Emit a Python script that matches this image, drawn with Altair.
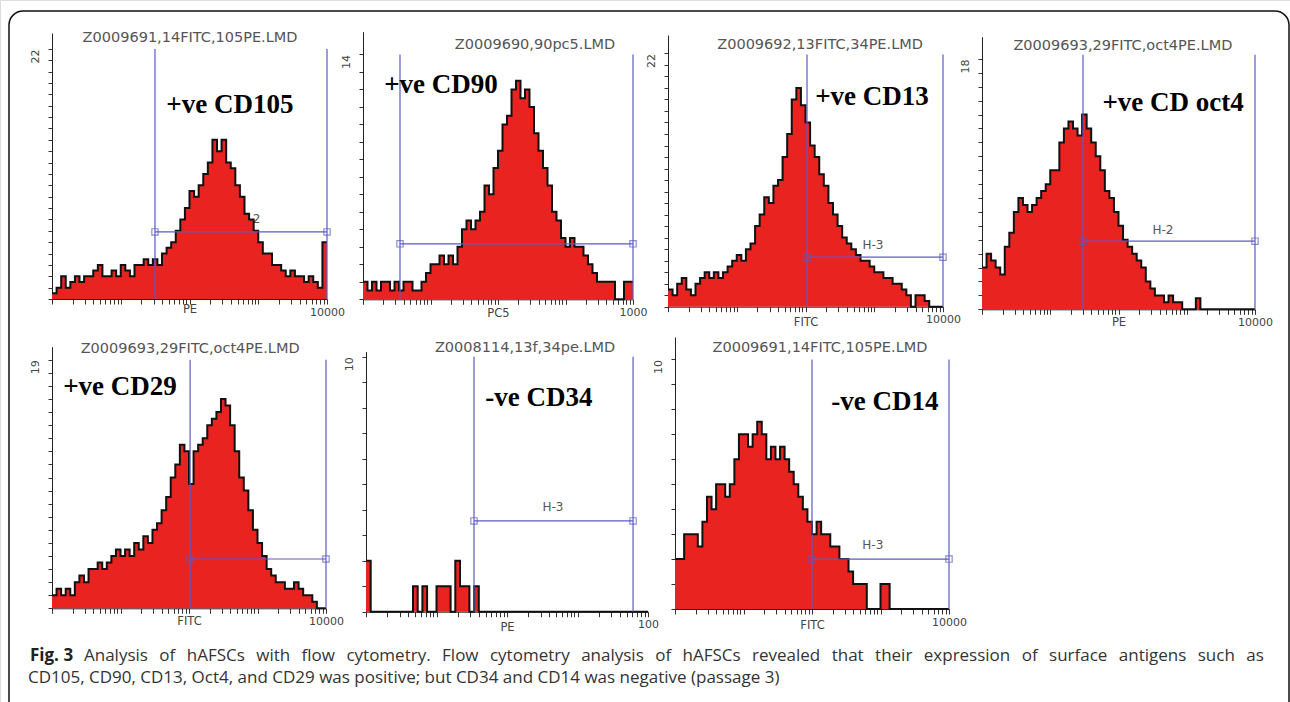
import altair as alt
import pandas as pd

# ---- histogram counts (60 log-spaced channels per panel, 4 decades) ----
cd105 = [0.5, 1, 2, 1, 1.5, 2, 1.5, 2, 2, 2.5, 3, 2, 2, 2.5, 2, 3, 2.5, 2, 3, 3,
         3.5, 3, 3.5, 3, 4, 4.5, 5, 6, 7, 8, 9.5, 9, 10, 11, 12, 14, 13, 14, 12, 11.5,
         10, 9, 7.5, 7, 6, 5, 4, 4, 3, 3, 2.5, 2, 2.5, 2, 2, 1.5, 2, 1.5, 1, 5]
cd90 = [1, 0.5, 1, 0.5, 1, 1, 0.5, 1, 0.5, 1, 1, 0.5, 0.5, 1, 1.5, 2, 2, 2.5, 2, 2.5,
        2, 3, 4, 4.5, 4, 4.5, 5, 6.5, 6, 7.5, 8.5, 10, 10.5, 12, 12.5, 11.5, 12, 11, 9.5, 8.5,
        7.5, 6.5, 5, 4.5, 3.5, 3, 3.5, 3, 3, 2.5, 2, 1.5, 1, 1, 1, 1, 0, 0, 1, 1]
cd13 = [1.5, 1, 2, 2.5, 1.5, 1, 2, 2.5, 3, 2.5, 3, 2.5, 3, 3.5, 4, 4.5, 4, 5, 5.5, 7,
        8, 9.5, 9, 10.5, 11, 13, 15, 18, 19, 17.5, 16, 14, 13, 11.5, 10.5, 9, 8, 7, 6, 5.5,
        5, 4.5, 4, 4, 3.5, 3, 3, 2.5, 2.5, 2, 2, 1.5, 1, 0, 1, 1, 0.5, 0, 0, 0]
oct4 = [3, 4, 3.5, 3, 2.5, 4.5, 5.5, 7, 8, 7.5, 7, 7.5, 8, 8.5, 9, 10, 10, 12, 13, 13.5,
        13, 12.5, 14, 13, 12, 11, 10, 8.5, 8, 7, 6, 5, 4.5, 4, 3.5, 3, 2, 1.5, 1, 1,
        0.5, 1, 0.5, 0.5, 0, 0, 0, 0.8, 0, 0, 0, 0, 0, 0, 0, 0, 0, 0, 0, 0]
cd29 = [1, 1.5, 1, 1.5, 1, 2, 2.5, 2, 3, 3, 3.5, 3, 3.5, 4, 4.5, 4, 4.5, 4, 5, 4.5,
        5.5, 5, 6, 6.5, 7.5, 8.5, 10, 11, 12.5, 12, 9.5, 12, 12.5, 13, 14, 14.5, 15, 16, 15.5, 14,
        12, 10, 9, 7.5, 6, 5, 4, 3, 2.5, 2, 2, 1.5, 1.5, 2, 1.5, 1, 1, 0.5, 0, 0]
cd34 = [2, 0, 0, 0, 0, 0, 0, 0, 0, 0, 1, 0, 1, 0, 0, 1, 1, 1, 0, 2,
        1, 1, 0, 1, 0, 0, 0, 0, 0, 0, 0, 0, 0, 0, 0, 0, 0, 0, 0, 0,
        0, 0, 0, 0, 0, 0, 0, 0, 0, 0, 0, 0, 0, 0, 0, 0, 0, 0, 0, 0]
cd14 = [2, 2, 3, 3, 3, 2.5, 3.5, 4.5, 4, 5, 5, 4.5, 5, 6, 7, 7, 6.5, 7, 7.5, 7,
        6, 6.5, 6, 6.5, 6, 5.5, 5, 4.5, 4, 3.5, 3, 3.5, 3, 3, 2.5, 2.5, 2, 2, 1.5, 1,
        1, 1, 0, 0, 0, 1, 1, 0, 0, 0, 0, 0, 0, 0, 0, 0, 0, 0, 0, 0]

titles = ["Z0009691,14FITC,105PE.LMD", "Z0009690,90pc5.LMD", "Z0009692,13FITC,34PE.LMD",
          "Z0009693,29FITC,oct4PE.LMD", "Z0009693,29FITC,oct4PE.LMD", "Z0008114,13f,34pe.LMD",
          "Z0009691,14FITC,105PE.LMD"]
markers = ["+ve CD105", "+ve CD90", "+ve CD13", "+ve CD oct4", "+ve CD29", "-ve CD34", "-ve CD14"]
x_titles = ["PE", "PC5", "FITC", "PE", "FITC", "PE", "FITC"]
x_max = [10000, 1000, 10000, 10000, 10000, 100, 10000]
y_max_label = [22, 14, 22, 18, 19, 10, 10]
gate_names = ["H-2", "", "H-3", "H-2", "H-3", "H-3", "H-3"]
gate_height = [5.9, 3.17, 4.3, 4.9, 3.77, 3.56, 2.0]
# gate edges as fractions of the log axis
gate_edges = [(0.3745, 1.0), (0.137, 1.0), (0.5055, 1.0), (0.37, 1.0), (0.504, 1.0),
              (0.383, 0.947), (0.5, 1.0)]

caption_bold = "Fig. 3"
caption_line1 = ("Analysis of hAFSCs with flow cytometry. Flow cytometry analysis of hAFSCs "
                 "revealed that their expression of surface antigens such as")
caption_line2 = ("CD105, CD90, CD13, Oct4, and CD29 was positive; but CD34 and CD14 was "
                 "negative (passage 3)")

# ---- layout (pixel placement of each panel, annotation anchors in panel units) ----
layout = [
    dict(xr=[52, 327], ytop=23.4, yr=[299, 33], gtop=22, glab=(0.72, 7.0),
         title=(0.502, 23.0), big=(0.647, 17.1), tdy=10),
    dict(xr=[363, 633], ytop=15.3, yr=[299.3, 31.7], gtop=14, glab=(0.7, 4),
         title=(0.637, 14.56), big=(0.289, 12.27), tdy=14),
    dict(xr=[668, 943], ytop=23.6, yr=[306.7, 35], gtop=21.9, glab=(0.745, 5.4),
         title=(0.553, 22.75), big=(0.742, 18.2), tdy=15.5),
    dict(xr=[982, 1255], ytop=19.6, yr=[309.3, 36.7], gtop=18.3, glab=(0.663, 5.7),
         title=(0.516, 18.9), big=(0.70, 14.8), tdy=13.5),
    dict(xr=[52, 326], ytop=20, yr=[608.3, 346.7], gtop=19, glab=(0.72, 4.6),
         title=(0.504, 19.85), big=(0.248, 16.9), tdy=13),
    dict(xr=[366, 648], ytop=10.2, yr=[611.7, 351.6], gtop=10, glab=(0.663, 4.1),
         title=(0.564, 10.34), big=(0.613, 8.4), tdy=16),
    dict(xr=[675, 949], ytop=10.9, yr=[609, 337], gtop=10, glab=(0.722, 2.56),
         title=(0.529, 10.44), big=(0.766, 8.28), tdy=16),
]

W, H = 1290, 702
RED = "#e82320"
BLUE = "#5b5bc4"
series = [cd105, cd90, cd13, oct4, cd29, cd34, cd14]


def panel(i):
    counts = series[i]
    L = layout[i]
    xmax = x_max[i]
    xmin = xmax / 10000
    n = len(counts)
    span = xmax / xmin

    def fx(f):
        return xmin * span ** f

    edges = [fx(k / n) for k in range(n + 1)]
    hist = pd.DataFrame({"x": edges, "y": counts + [counts[-1]]})

    xticks = [m * xmin * 10 ** k for k in range(4) for m in range(1, 10)] + [xmax]

    xscale = alt.Scale(type="log", domain=[xmin, xmax], range=L["xr"], nice=False)
    yscale = alt.Scale(domain=[0, L["ytop"]], range=L["yr"], nice=False, zero=True)
    xaxis = alt.Axis(orient="bottom", offset=-(H - L["yr"][0]), values=xticks,
                     labelExpr=f"datum.value >= {xmax * 0.999} ? '{xmax}' : ''",
                     tickSize=5, tickColor="#333", domainColor="#222", tickWidth=1,
                     labelColor="#444", labelFont="DejaVu Sans", labelFontSize=11,
                     labelPadding=2, labelOverlap=False, labelFlush=False, grid=False,
                     title=x_titles[i], titleFont="DejaVu Sans", titleFontSize=11.5,
                     titleFontWeight="normal", titleColor="#444",
                     titleY=L["tdy"], titleBaseline="middle")
    yaxis = alt.Axis(orient="left", offset=-L["xr"][0],
                     values=list(range(0, y_max_label[i] + 1)),
                     labelExpr=f"datum.value == {y_max_label[i]} ? '{y_max_label[i]}' : ''",
                     tickSize=4, tickColor="#333", domainColor="#222",
                     labelAngle=270, labelAlign="right", labelBaseline="bottom",
                     labelPadding=8, labelColor="#444", labelFont="DejaVu Sans",
                     labelFontSize=11, labelOverlap=False, labelFlush=False,
                     grid=False, title=None)

    def X(f="x"):
        return alt.X(f"{f}:Q", scale=xscale, axis=xaxis)

    def Y(f="y"):
        return alt.Y(f"{f}:Q", scale=yscale, axis=yaxis)

    layers = []
    if gate_names[i]:
        gl = pd.DataFrame({"x": [fx(L["glab"][0])], "y": [L["glab"][1]], "t": [gate_names[i]]})
        layers.append(alt.Chart(gl).mark_text(font="DejaVu Sans", fontSize=12, color="#555",
                                              baseline="middle")
                      .encode(x=X(), y=Y(), text="t:N"))
    layers.append(alt.Chart(hist).mark_area(interpolate="step-after", color=RED)
                  .encode(x=X(), y=Y()))
    layers.append(alt.Chart(hist).mark_line(interpolate="step-after", color="#111", strokeWidth=2)
                  .encode(x=X(), y=Y()))
    g0, g1 = gate_edges[i]
    gates = pd.DataFrame({"x": [fx(g0), fx(g1)], "y0": [0, 0], "y1": [L["gtop"], L["gtop"]],
                          "gy": [gate_height[i]] * 2})
    layers.append(alt.Chart(gates).mark_rule(color=BLUE, strokeWidth=1.2)
                  .encode(x=X(), y=Y("y0"), y2="y1:Q"))
    hline = pd.DataFrame({"x": [fx(g0)], "x2": [fx(g1)], "y": [gate_height[i]]})
    layers.append(alt.Chart(hline).mark_rule(color=BLUE, strokeWidth=1.2)
                  .encode(x=X(), x2="x2:Q", y=Y()))
    layers.append(alt.Chart(gates).mark_square(filled=False, color=BLUE, size=40, strokeWidth=1.2)
                  .encode(x=X(), y=Y("gy")))
    tt = pd.DataFrame({"x": [fx(L["title"][0])], "y": [L["title"][1]], "t": [titles[i]]})
    layers.append(alt.Chart(tt).mark_text(font="DejaVu Sans", fontSize=14.5, color="#555",
                                          baseline="middle")
                  .encode(x=X(), y=Y(), text="t:N"))
    bt = pd.DataFrame({"x": [fx(L["big"][0])], "y": [L["big"][1]], "t": [markers[i]]})
    layers.append(alt.Chart(bt).mark_text(font="Liberation Serif", fontSize=27, fontWeight="bold",
                                          color="#000", baseline="middle")
                  .encode(x=X(), y=Y(), text="t:N"))
    return alt.layer(*layers)


panels = [panel(i) for i in range(7)]

frame = alt.Chart(pd.DataFrame({"a": [0]})).mark_rect(
    fill=None, stroke="#111", strokeWidth=1.5, cornerRadius=14
).encode(x=alt.value(9), x2=alt.value(1289), y=alt.value(11), y2=alt.value(740))

# justified first caption line: widen the word gaps with figure + hair spaces
justified = caption_line1.replace(" ", "\u2007\u200a")

cap_bold = alt.Chart(pd.DataFrame({"t": [caption_bold]})).mark_text(
    font="Open Sans", fontSize=17, fontWeight="bold", color="#222", align="left", baseline="middle"
).encode(x=alt.value(30), y=alt.value(656), text="t:N")
cap1 = alt.Chart(pd.DataFrame({"t": [justified]})).mark_text(
    font="Open Sans", fontSize=17, color="#333", align="left", baseline="middle"
).encode(x=alt.value(84), y=alt.value(656), text="t:N")
cap2 = alt.Chart(pd.DataFrame({"t": [caption_line2]})).mark_text(
    font="Open Sans", fontSize=17, color="#333", align="left", baseline="middle"
).encode(x=alt.value(28), y=alt.value(678), text="t:N")

chart = alt.layer(frame, *panels, cap_bold, cap1, cap2).resolve_scale(
    x="independent", y="independent"
).resolve_axis(x="independent", y="independent").properties(
    width=W, height=H, padding=0, autosize=alt.AutoSizeParams(type="none")
).configure_view(stroke=None).configure(background="white")

chart.save("out.html", embed_options={"renderer": "svg", "actions": False})
